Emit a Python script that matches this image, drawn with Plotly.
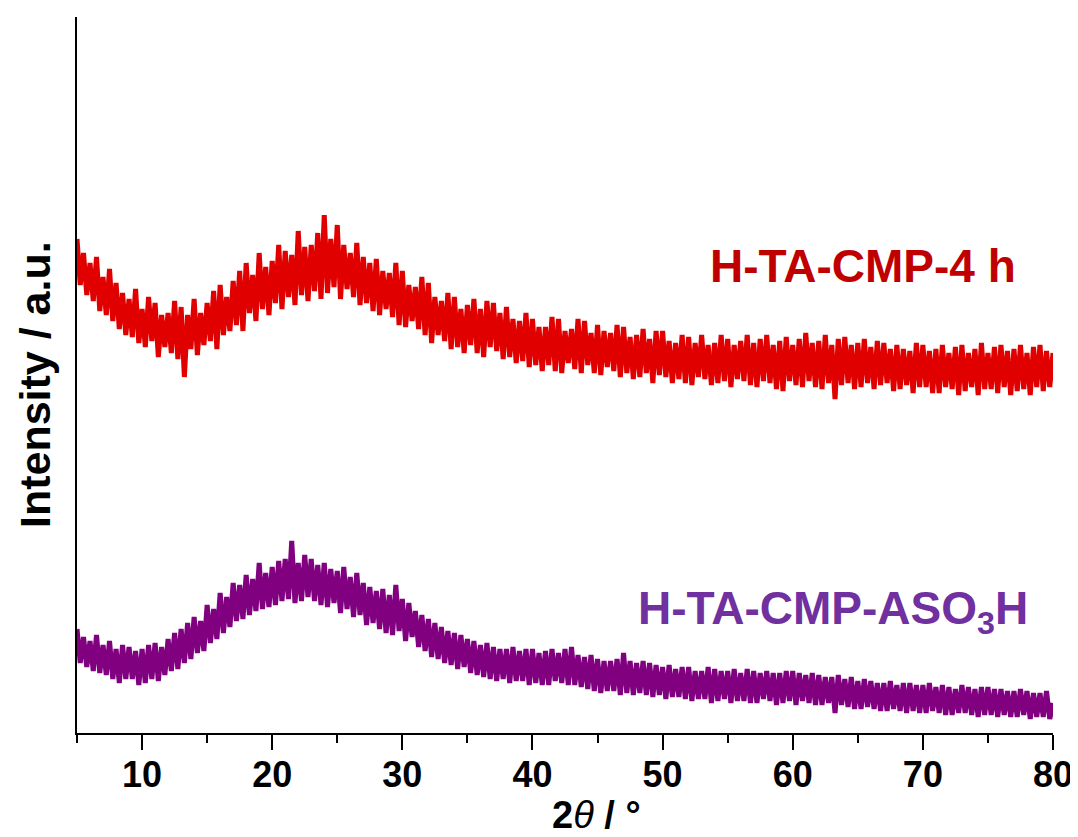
import plotly.graph_objects as go

# 2-theta grid: 5.00 to 80.00 step 0.25 (301 points)
two_theta = [5 + 0.25 * i for i in range(301)]

# H-TA-CMP-4 h intensity (arbitrary units)
red_4h = [
    494, 448, 480, 438,  470, 432, 476, 422,  456, 418, 464, 412,  450, 404, 440, 398,
    434, 396, 444, 390,  424, 386, 436, 392,  430, 376, 418, 386,  420, 380, 432, 374,
    426, 356, 418, 384,  434, 378, 420, 388,  430, 392, 442, 384,  448, 398, 436, 402,
    452, 408, 462, 402,  470, 420, 458, 412,  480, 424, 466, 418,  472, 430, 488, 424,
    482, 436, 478, 428,  502, 438, 486, 432,  488, 442, 500, 434,  518, 440, 494, 446,
    508, 434, 488, 444,  480, 436, 490, 428,  476, 430, 470, 422,  474, 418, 462, 424,
    460, 416, 470, 408,  462, 406, 448, 412,  446, 404, 456, 398,  450, 390, 436, 398,
    432, 392, 440, 384,  436, 386, 424, 380,  428, 388, 434, 380,  424, 376, 432, 386,
    430, 382, 420, 374,  426, 376, 414, 370,  412, 372, 420, 366,  414, 368, 406, 362,
    406, 368, 416, 362,  414, 360, 402, 370,  404, 364, 414, 360,  412, 368, 400, 360,
    408, 358, 402, 366,  400, 362, 408, 356,  406, 360, 396, 354,  398, 356, 404, 360,
    394, 350, 402, 358,  402, 356, 392, 350,  390, 354, 398, 350,  396, 348, 390, 356,
    398, 354, 388, 348,  390, 350, 398, 352,  394, 346, 388, 354,  392, 352, 398, 348,
    390, 346, 394, 352,  398, 350, 388, 344,  392, 342, 396, 352,  388, 348, 394, 346,
    400, 352, 390, 346,  392, 344, 398, 350,  388, 334, 394, 348,  396, 350, 388, 344,
    390, 346, 394, 350,  386, 344, 392, 348,  390, 350, 384, 342,  388, 344, 384, 348,
    382, 340, 390, 346,  388, 346, 382, 340,  384, 340, 388, 346,  380, 344, 386, 338,
    388, 342, 380, 346,  384, 338, 390, 344,  380, 344, 386, 340,  388, 346, 382, 338,
    384, 342, 388, 344,  380, 338, 386, 346,  388, 342, 382, 346,  380,
]

# H-TA-CMP-ASO3H intensity (arbitrary units)
purple_aso3h = [
    104, 70, 96, 66,  92, 62, 98, 60,  88, 58, 92, 54,  84, 50, 88, 54,
    86, 54, 82, 48,  84, 50, 88, 54,  90, 52, 86, 58,  94, 62, 100, 64,
    104, 70, 110, 74,  116, 80, 112, 82,  128, 90, 124, 94,  140, 100, 136, 106,
    150, 112, 148, 114,  158, 118, 154, 122,  170, 124, 160, 126,  166, 128, 172, 132,
    174, 134, 192, 130,  170, 132, 178, 136,  174, 132, 168, 128,  170, 126, 164, 130,
    162, 120, 166, 124,  156, 116, 160, 118,  150, 108, 146, 110,  142, 104, 144, 100,
    138, 98, 148, 102,  134, 92, 130, 96,  122, 86, 118, 82,  114, 76, 110, 74,
    106, 70, 102, 68,  100, 64, 98, 66,  94, 60, 92, 58,  88, 56, 90, 54,
    86, 52, 84, 54,  84, 50, 86, 52,  82, 52, 84, 48,  84, 50, 80, 48,
    82, 48, 84, 52,  80, 50, 84, 48,  86, 48, 78, 46,  76, 44, 78, 42,
    74, 40, 72, 42,  72, 42, 74, 38,  80, 40, 72, 38,  70, 40, 72, 38,
    70, 36, 68, 38,  66, 34, 68, 36,  64, 36, 66, 34,  66, 32, 62, 34,
    62, 34, 66, 30,  64, 32, 62, 34,  62, 30, 64, 32,  60, 32, 64, 30,
    62, 30, 60, 34,  62, 32, 60, 28,  60, 30, 62, 32,  62, 28, 60, 32,
    58, 30, 60, 28,  58, 28, 56, 30,  56, 20, 58, 28,  54, 26, 56, 24,
    52, 24, 54, 26,  52, 24, 50, 22,  50, 22, 52, 24,  48, 22, 50, 20,
    50, 22, 48, 20,  48, 20, 50, 22,  46, 20, 48, 18,  46, 18, 44, 20,
    48, 20, 46, 18,  44, 16, 46, 18,  46, 18, 44, 16,  44, 18, 42, 16,
    42, 16, 44, 18,  42, 14, 40, 16,  40, 16, 42, 14,  30,
]

labels = ["H-TA-CMP-4 h", "H-TA-CMP-ASO<sub>3</sub>H"]
label_pos = [(65.4, 467), (63.1, 122)]
line_colors = ["#E00000", "#800080"]
text_colors = ["#C00000", "#7030A0"]

x_title = "<b>2</b><i>θ</i><b> / °</b>"
y_title = "<b>Intensity / a.u.</b>"

FONT = "Arial, 'Liberation Sans', sans-serif"

fig = go.Figure()
for ys, col, name in zip([red_4h, purple_aso3h], line_colors, labels):
    fig.add_trace(go.Scatter(x=two_theta, y=ys, mode="lines",
                             line=dict(color=col, width=5), name=name,
                             showlegend=False))

for lab, (lx, ly), tc in zip(labels, label_pos, text_colors):
    fig.add_annotation(x=lx, y=ly, text="<b>" + lab + "</b>", showarrow=False,
                       font=dict(family=FONT, size=46, color=tc),
                       xanchor="center", yanchor="middle")

# axis titles placed as annotations (offset like the reference)
fig.add_annotation(xref="paper", yref="paper", x=0.532, y=-0.1145, text=x_title,
                   showarrow=False, xanchor="center", yanchor="middle",
                   font=dict(family=FONT, size=38, color="black"))
fig.add_annotation(xref="paper", yref="paper", x=-0.043, y=0.486, text=y_title,
                   textangle=-90, showarrow=False, xanchor="center", yanchor="middle",
                   font=dict(family=FONT, size=43, color="black"))

# page body has an 8px default margin, so the figure is offset by 8px
fig.update_layout(
    width=1070, height=829,
    margin=dict(l=69, r=25, t=9, b=104),
    paper_bgcolor="white", plot_bgcolor="white",
    font=dict(family=FONT, color="black"),
)
fig.update_xaxes(
    range=[5, 80], tick0=0, dtick=10, automargin=False,
    showline=True, linecolor="black", linewidth=2,
    ticks="outside", ticklen=15, tickwidth=2, tickcolor="black",
    minor=dict(dtick=5, tick0=0, ticks="outside", ticklen=8, tickwidth=2, tickcolor="black"),
    showgrid=False, zeroline=False, ticklabelstandoff=-6,
    tickfont=dict(family=FONT, size=36, color="black", weight="bold"),
)
fig.update_yaxes(
    range=[0, 716], automargin=False,
    showline=True, linecolor="black", linewidth=2,
    ticks="", showticklabels=False, showgrid=False, zeroline=False,
)

fig.write_html("out.html")
